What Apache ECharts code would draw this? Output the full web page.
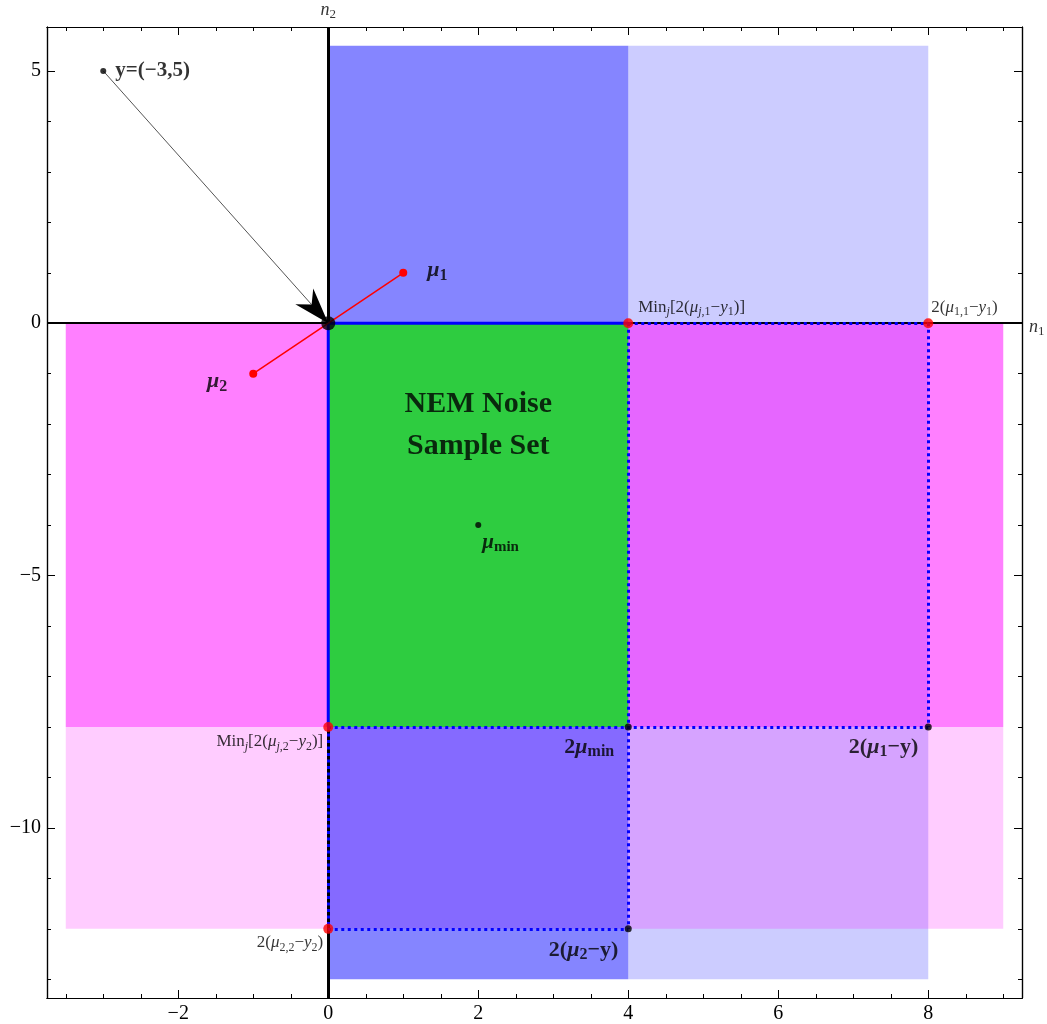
<!DOCTYPE html>
<html>
<head>
<meta charset="utf-8">
<script src="https://cdn.jsdelivr.net/npm/echarts@6/dist/echarts.min.js"></script>
<style>
  html, body { margin: 0; padding: 0; background: #fff; }
  #chart { width: 1047px; height: 1024px; }
</style>
</head>
<body>
<div id="chart"></div>
<script>
// Axis extents and tick values
const X_RANGE = [-3.75, 9.25];
const Y_RANGE = [-13.37, 5.87];
const X_MAJOR = [-2, 0, 2, 4, 6, 8];
const X_MINOR = [-3.5, -3, -2.5, -1.5, -1, -0.5, 0.5, 1, 1.5, 2.5, 3, 3.5, 4.5, 5, 5.5, 6.5, 7, 7.5, 8.5, 9];
const Y_MAJOR = [-10, -5, 0, 5];
const Y_MINOR = [-13, -12, -11, -9, -8, -7, -6, -4, -3, -2, -1, 1, 2, 3, 4];

// Shaded regions: [x0, y0, x1, y1]
const lightBlueBand = [4, -13, 8, 5.5];
const pinkBand = [-3.5, -8, 9, 0];
const lightPinkBand = [-3.5, -12, 9, -8];
const blueBand = [0, -13, 4, 5.5];
const sampleSet = [0, -8, 4, 0];

// Points
const observation = [-3, 5];
const origin = [0, 0];
const mu1 = [1, 1];
const mu2 = [-1, -1];
const muMin = [2, -4];
const redCorners = [[4, 0], [8, 0], [0, -8], [0, -12]];
const blackCorners = [[4, -8], [8, -8], [4, -12]];

// Boundary lines
const sampleEdge = [[4, 0], [0, 0], [0, -8]];
const boundSegments = [
  [[4, 0], [8, 0]],
  [[8, 0], [8, -8]],
  [[0, -8], [8, -8]],
  [[4, 0], [4, -12]],
  [[0, -12], [4, -12]],
  [[0, -8], [0, -12]]
];

const FONT = '"Liberation Serif", "DejaVu Serif", serif';
const MINUS = '\u2212';
const fmt = v => (v < 0 ? MINUS + Math.abs(v) : String(v));

function textStyles(prefix, size, weight, subRatio, subWeight) {
  const sub = Math.round(size * subRatio);
  const base = { fontFamily: FONT, color: '#000', fontWeight: weight };
  const out = {};
  out[prefix] = Object.assign({}, base, { fontSize: size, lineHeight: size + 4 });
  out[prefix + 'i'] = Object.assign({}, base, { fontSize: size, lineHeight: size + 4, fontStyle: 'italic' });
  out[prefix + 's'] = Object.assign({}, base, { fontSize: sub, lineHeight: sub + 1, verticalAlign: 'bottom', fontWeight: subWeight });
  out[prefix + 'si'] = Object.assign({}, base, { fontSize: sub, lineHeight: sub + 1, verticalAlign: 'bottom', fontStyle: 'italic', fontWeight: subWeight });
  return out;
}
const rich = Object.assign({},
  textStyles('a', 17, 'normal', 0.72, 'normal'),
  textStyles('b', 22, 'bold', 0.72, 'bold'),
  textStyles('c', 21, 'bold', 0.72, 'bold'),
  textStyles('n', 18, 'normal', 0.72, 'normal'),
  { h: { fontFamily: FONT, fontSize: 30, fontWeight: 'bold', color: '#000', lineHeight: 42 } }
);

function band(rect, fill, opacity, z) {
  return {
    type: 'custom', coordinateSystem: 'cartesian2d', silent: true, z: z,
    data: [rect],
    renderItem(params, api) {
      const a = api.coord([api.value(0), api.value(3)]);
      const b = api.coord([api.value(2), api.value(1)]);
      return {
        type: 'rect',
        shape: { x: a[0], y: a[1], width: b[0] - a[0], height: b[1] - a[1] },
        style: { fill: fill, opacity: opacity }
      };
    }
  };
}

function axisDef(range, position, ticks, len, labels, margin) {
  return {
    type: 'value', min: range[0], max: range[1], position: position,
    splitLine: { show: false },
    axisLine: { show: true, onZero: false, lineStyle: { color: '#000', width: 1.2 } },
    axisTick: { show: true, inside: true, length: len, customValues: ticks, lineStyle: { color: '#000', width: 1 } },
    axisLabel: labels
      ? { show: true, customValues: ticks, formatter: fmt, margin: margin, fontFamily: FONT, fontSize: 20, color: '#000' }
      : { show: false }
  };
}

function note(coord, text, position, offset, extra) {
  return {
    value: coord,
    label: Object.assign({ show: true, formatter: text, position: position, distance: 0, offset: offset, color: '#000' }, extra || {})
  };
}

const chart = echarts.init(document.getElementById('chart'), null, { renderer: 'canvas' });

const option = {
  animation: false,
  backgroundColor: '#fff',
  grid: { left: 47, right: 25, top: 27, bottom: 25, containLabel: false },
  xAxis: [
    axisDef(X_RANGE, 'bottom', X_MAJOR, 8, true, 6),
    axisDef(X_RANGE, 'bottom', X_MINOR, 4, false),
    axisDef(X_RANGE, 'top', X_MAJOR, 8, false),
    axisDef(X_RANGE, 'top', X_MINOR, 4, false)
  ],
  yAxis: [
    axisDef(Y_RANGE, 'left', Y_MAJOR, 8, true, 6),
    axisDef(Y_RANGE, 'left', Y_MINOR, 4, false),
    axisDef(Y_RANGE, 'right', Y_MAJOR, 8, false),
    axisDef(Y_RANGE, 'right', Y_MINOR, 4, false)
  ],
  series: [
    band(lightBlueBand, '#ccccff', 1, 1),
    band(pinkBand, '#ff00ff', 0.5, 2),
    band(lightPinkBand, '#ff00ff', 0.2, 3),
    band(blueBand, '#0000ff', 0.48, 4),
    band(sampleSet, '#2ecc40', 1, 5),
    // coordinate axes through the origin
    {
      type: 'line', data: [], z: 6, silent: true,
      markLine: {
        silent: true, symbol: 'none', label: { show: false }, animation: false,
        data: [
          { xAxis: 0, lineStyle: { color: '#000', width: 3, type: 'solid' } },
          { yAxis: 0, lineStyle: { color: '#000', width: 2, type: 'solid' } }
        ]
      }
    },
    // dotted bounds
    {
      type: 'lines', coordinateSystem: 'cartesian2d', z: 7, silent: true,
      lineStyle: { color: '#0000ff', width: 3, type: [3, 3.5], opacity: 1 },
      data: boundSegments.map(s => ({ coords: s }))
    },
    // solid edge of the sample set
    {
      type: 'line', z: 8, silent: true, showSymbol: false, symbol: 'none',
      lineStyle: { color: '#0000ff', width: 3 },
      data: sampleEdge
    },
    // mean vectors
    {
      type: 'line', z: 9, silent: true, showSymbol: true, symbol: 'circle', symbolSize: 8,
      itemStyle: { color: '#ff0000' },
      lineStyle: { color: '#ff0000', width: 1.5 },
      data: [mu2, mu1]
    },
    // arrow from the observation to the origin
    {
      type: 'custom', coordinateSystem: 'cartesian2d', z: 10, silent: true,
      data: [[observation[0], observation[1], origin[0], origin[1]]],
      renderItem(params, api) {
        const p0 = api.coord([api.value(0), api.value(1)]);
        const p1 = api.coord([api.value(2), api.value(3)]);
        const dx = p1[0] - p0[0], dy = p1[1] - p0[1];
        const L = Math.hypot(dx, dy);
        const ux = dx / L, uy = dy / L, nx = -uy, ny = ux;
        const len = 36, half = 12, notch = 25;
        const bx = p1[0] - ux * len, by = p1[1] - uy * len;
        const pts = [
          [p1[0], p1[1]],
          [bx + nx * half, by + ny * half],
          [p1[0] - ux * notch, p1[1] - uy * notch],
          [bx - nx * half, by - ny * half]
        ];
        return {
          type: 'group',
          children: [
            { type: 'line', shape: { x1: p0[0], y1: p0[1], x2: p1[0] - ux * notch, y2: p1[1] - uy * notch },
              style: { stroke: '#555', lineWidth: 1 } },
            { type: 'polygon', shape: { points: pts }, style: { fill: '#000' } }
          ]
        };
      }
    },
    // corner points
    {
      type: 'scatter', z: 11, silent: true, symbolSize: 10,
      itemStyle: { color: '#ff0000' },
      data: redCorners
    },
    {
      type: 'scatter', z: 11, silent: true, symbolSize: 7,
      itemStyle: { color: '#000' },
      data: blackCorners
    },
    {
      type: 'scatter', z: 12, silent: true, symbolSize: 14,
      itemStyle: { color: '#000' },
      data: [origin]
    },
    {
      type: 'scatter', z: 12, silent: true, symbolSize: 6,
      itemStyle: { color: '#000' },
      data: [observation, muMin]
    },
    // annotations
    {
      type: 'scatter', z: 13, silent: true, symbolSize: 0, clip: false,
      label: { show: true, rich: rich, color: '#000' },
      data: [
        note(observation, '{c|y=(' + MINUS + '3,5)}', 'right', [12, 0]),
        note(mu1, '{bi|\u03bc}{bs|1}', 'right', [24, -2]),
        note(mu2, '{bi|\u03bc}{bs|2}', 'left', [-26, 8]),
        note([4, 0], '{a|Min}{asi|j}{a|[2(}{ai|\u03bc}{asi|j}{as|,1}{a|' + MINUS + '}{ai|y}{as|1}{a|)]}', 'right', [10, -16]),
        note([8, 0], '{a|2(}{ai|\u03bc}{as|1,1}{a|' + MINUS + '}{ai|y}{as|1}{a|)}', 'right', [3, -16]),
        note([0, -8], '{a|Min}{asi|j}{a|[2(}{ai|\u03bc}{asi|j}{as|,2}{a|' + MINUS + '}{ai|y}{as|2}{a|)]}', 'left', [-5, 15]),
        note([0, -12], '{a|2(}{ai|\u03bc}{as|2,2}{a|' + MINUS + '}{ai|y}{as|2}{a|)}', 'left', [-5, 14]),
        note([4, -8], '{b|2}{bi|\u03bc}{bs|min}', 'left', [-14, 20]),
        note([8, -8], '{b|2(}{bi|\u03bc}{bs|1}{b|' + MINUS + 'y)}', 'left', [-10, 20]),
        note([4, -12], '{b|2(}{bi|\u03bc}{bs|2}{b|' + MINUS + 'y)}', 'left', [-10, 21]),
        note([2, -2.02], '{h|NEM Noise}\n{h|Sample Set}', 'inside', [0, 0], { align: 'center' }),
        note(muMin, '{ci|\u03bc}{cs|min}', 'right', [4, 17]),
        note([X_RANGE[1], 0], '{ni|n}{ns|1}', 'right', [7, 4]),
        note([0, Y_RANGE[1]], '{ni|n}{ns|2}', 'top', [0, -6])
      ]
    }
  ]
};

chart.setOption(option);
</script>
</body>
</html>
